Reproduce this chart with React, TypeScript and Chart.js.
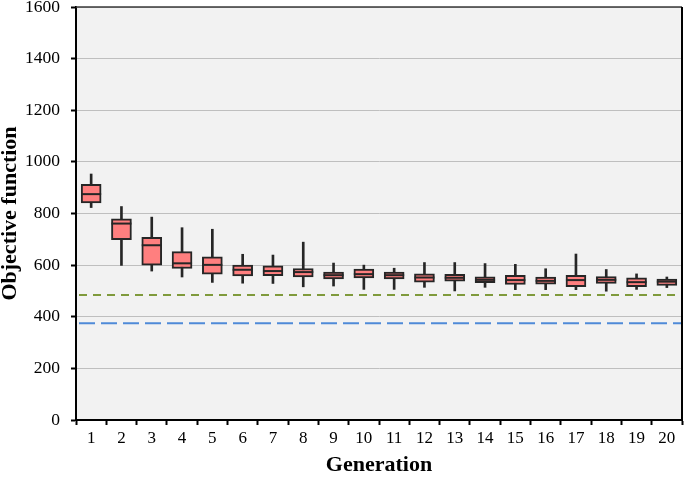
import React, { useEffect, useRef } from "react";
import { Chart, registerables } from "chart.js";

Chart.register(...registerables);

const generations = ["1","2","3","4","5","6","7","8","9","10","11","12","13","14","15","16","17","18","19","20"];
const whiskerHigh = [953, 827, 786, 745, 739, 642, 639, 689, 608, 600, 588, 610, 610, 606, 603, 586, 643, 583, 566, 554];
const boxTop = [913, 779, 708, 652, 632, 600, 597, 587, 573, 585, 573, 566, 564, 555, 560, 554, 560, 556, 551, 546];
const medians = [875, 761, 677, 607, 601, 582, 577, 573, 561, 565, 561, 552, 551, 543, 542, 539, 542, 543, 534, 536];
const boxBottom = [841, 699, 600, 587, 565, 558, 559, 554, 547, 550, 547, 534, 538, 532, 525, 526, 517, 529, 517, 521];
const whiskerLow = [823, 599, 577, 554, 533, 530, 529, 516, 519, 506, 506, 514, 500, 514, 505, 505, 505, 499, 506, 513];
const refGreen = 484;
const refBlue = 375;
const yTicks = [0, 200, 400, 600, 800, 1000, 1200, 1400, 1600];

const FONT = "'Liberation Serif', 'Times New Roman', serif";
const DARK = "#262626";

const decorPlugin = {
  id: "decor",
  beforeDraw(chart: any) {
    const { ctx, chartArea } = chart;
    ctx.save();
    ctx.fillStyle = "#f2f2f2";
    ctx.fillRect(chartArea.left, chartArea.top, chartArea.right - chartArea.left, chartArea.bottom - chartArea.top);
    ctx.restore();
  },
  afterDatasetsDraw(chart: any) {
    const { ctx, chartArea, scales } = chart;
    const y = scales.y;
    const meta = chart.getDatasetMeta(1);
    ctx.save();
    ctx.strokeStyle = DARK;
    ctx.lineWidth = 2;
    meta.data.forEach((bar: any, i: number) => {
      const py = y.getPixelForValue(medians[i]);
      ctx.beginPath();
      ctx.moveTo(bar.x - bar.width / 2, py);
      ctx.lineTo(bar.x + bar.width / 2, py);
      ctx.stroke();
    });
    const drawRef = (v: number, color: string, dash: number[]) => {
      const py = y.getPixelForValue(v);
      ctx.strokeStyle = color;
      ctx.lineWidth = 2;
      ctx.setLineDash(dash);
      ctx.beginPath();
      ctx.moveTo(chartArea.left + 3, py);
      ctx.lineTo(chartArea.right, py);
      ctx.stroke();
    };
    drawRef(refGreen, "#7f9a3c", [8, 6]);
    drawRef(refBlue, "#4f8ad8", [16, 6]);
    ctx.restore();
  },
  afterDraw(chart: any) {
    const { ctx, chartArea } = chart;
    ctx.save();
    ctx.strokeStyle = "#3a3a3a";
    ctx.lineWidth = 1.5;
    ctx.beginPath();
    ctx.moveTo(chartArea.left, chartArea.top);
    ctx.lineTo(chartArea.right, chartArea.top);
    ctx.stroke();
    ctx.strokeStyle = "#000";
    ctx.lineWidth = 2;
    ctx.beginPath();
    ctx.moveTo(chartArea.right, chartArea.top);
    ctx.lineTo(chartArea.right, chartArea.bottom);
    ctx.stroke();
    ctx.restore();
  },
};

export default function App() {
  const ref = useRef<HTMLCanvasElement | null>(null);
  useEffect(() => {
    if (!ref.current) return;
    const chart = new Chart(ref.current, {
      type: "bar",
      data: {
        labels: generations,
        datasets: [
          {
            label: "whisker",
            data: whiskerLow.map((l, i) => [l, whiskerHigh[i]]) as any,
            backgroundColor: DARK,
            borderWidth: 0,
            barThickness: 2,
            grouped: false,
            order: 2,
          } as any,
          {
            label: "box",
            data: boxBottom.map((b, i) => [b, boxTop[i]]) as any,
            backgroundColor: "#ff7f7f",
            borderColor: DARK,
            borderWidth: 2,
            borderSkipped: false,
            barThickness: 20,
            grouped: false,
            order: 1,
          } as any,
        ],
      },
      options: {
        animation: false,
        responsive: false,
        maintainAspectRatio: false,
        layout: { padding: { top: 7, right: 4, left: 0, bottom: 0 } },
        plugins: { legend: { display: false }, tooltip: { enabled: false } },
        scales: {
          x: {
            type: "category",
            offset: true,
            grid: { drawOnChartArea: false, drawTicks: true, tickLength: 5, tickColor: "#000", offset: true, tickWidth: 2 },
            border: { color: "#000", width: 2 },
            ticks: { color: "#000", font: { family: FONT, size: 17 }, padding: 3, maxRotation: 0, autoSkip: false },
            title: { display: true, text: "Generation", color: "#000", font: { family: FONT, size: 22, weight: "bold" }, padding: { top: 0, bottom: -2 } },
            afterFit: (s: any) => { s.height = 57; s.paddingLeft = 0; s.paddingRight = 0; },
          },
          y: {
            min: 0,
            max: 1600,
            afterBuildTicks: (s: any) => { s.ticks = yTicks.map((v) => ({ value: v })); },
            grid: { color: "#bfbfbf", lineWidth: 1, tickColor: "#000", tickLength: 5, tickWidth: 2 },
            border: { color: "#000", width: 2 },
            ticks: { color: "#000", font: { family: FONT, size: 17.5 }, padding: 11, callback: (v: any) => String(v) },
            title: { display: true, text: "Objective function", color: "#000", font: { family: FONT, size: 22, weight: "bold" }, padding: { top: -3, bottom: 0 } },
            afterFit: (s: any) => { s.width = 76; s.paddingTop = 0; s.paddingBottom = 0; },
          },
        },
      },
      plugins: [decorPlugin],
    });
    return () => chart.destroy();
  }, []);
  return (
    <div style={{ position: "fixed", left: 0, top: 0, width: 686, height: 477, background: "#fff" }}>
      <canvas ref={ref} width={686} height={477} style={{ width: 686, height: 477 }} />
    </div>
  );
}
